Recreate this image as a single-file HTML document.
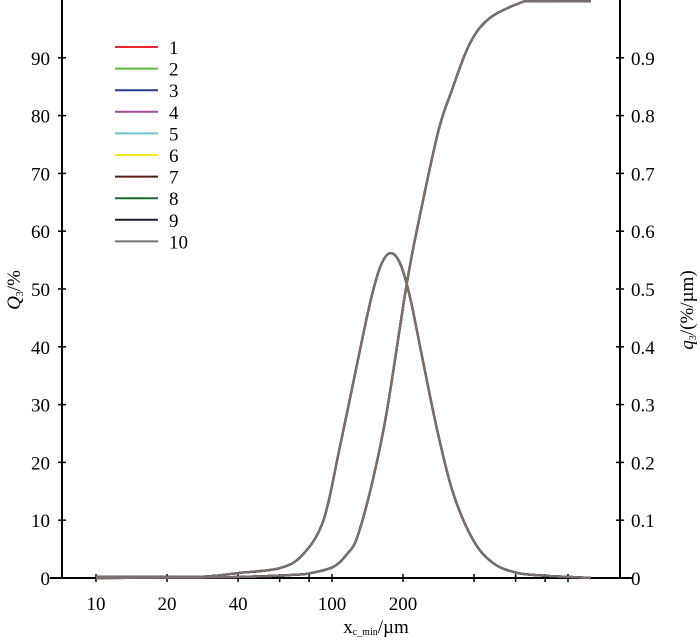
<!DOCTYPE html>
<html><head><meta charset="utf-8"><style>
body{margin:0;background:#fff;position:relative}
svg text{font-family:"Liberation Serif",serif;fill:#000}
</style></head><body>
<svg id="c" width="700" height="637" xmlns="http://www.w3.org/2000/svg"></svg>
<script>
const xTicks=[10,20,40,60,80,100,200,400,600,800,1000];
const xLabels=["10","20","40","","","100","200","","","",""];
const yLeftTicks=[0,10,20,30,40,50,60,70,80,90];
const yRightLabels=["0","0.1","0.2","0.3","0.4","0.5","0.6","0.7","0.8","0.9"];
const cumX=[10,30,50,66,80,101,115,128,149,171,206,229,281,322,385,467,626,711,900,1250];
const cumY=[0,0.1,0.3,0.5,0.8,1.9,4,7.1,17,29,50.2,60.2,77,84.4,92.6,96.9,99.5,99.8,99.8,99.8];
const denX=[10,20,30,40.8,60,75,92,108,128,145,160,176,194,214,241,279,326,396,481,608,800,1000,1250];
const denY=[0.002,0.002,0.003,0.009,0.017,0.04,0.10,0.227,0.372,0.476,0.538,0.562,0.545,0.486,0.382,0.256,0.147,0.066,0.026,0.009,0.004,0.002,0.0];
const seriesNames=["1","2","3","4","5","6","7","8","9","10"];
const seriesColors=["#e8262b","#5cb83a","#263a8f","#a04a9c","#6cc6cc","#f5ea14","#5a1a14","#1e6a30","#201a30","#7a7070"];

const svg=document.getElementById('c');
const NS="http://www.w3.org/2000/svg";
const L=62,R=620,B=578,T=0;
const X0=96,DEC=236;
function xs(v){return X0+(Math.log10(v)-1)*DEC;}
function yl(v){return B-v*5.78;}
function yr(v){return B-v*578;}
function mk(t,a){const e=document.createElementNS(NS,t);for(const k in a)e.setAttribute(k,a[k]);svg.appendChild(e);return e;}

let e;
e=mk('line',{x1:L,y1:T,x2:L,y2:B,stroke:'#000','stroke-width':2});


e=mk('line',{x1:R,y1:T,x2:R,y2:B,stroke:'#000','stroke-width':2});


e=mk('line',{x1:50,y1:B,x2:632,y2:B,stroke:'#000','stroke-width':2});



xTicks.forEach((v,i)=>{
  const x=xs(v);
  e=mk('line',{x1:x,y1:B-4,x2:x,y2:B+4,stroke:'#000','stroke-width':1.5});
  
  
  if(xLabels[i]){
    e=mk('text',{x:x,y:610,'font-size':19,'text-anchor':'middle'});e.textContent=xLabels[i];
    
    
  }
});
yLeftTicks.forEach((v,i)=>{
  const y=yl(v);
  e=mk('line',{x1:L-4,y1:y,x2:L+4,y2:y,stroke:'#000','stroke-width':1.5});
  
  
  e=mk('text',{x:50,y:y+7,'font-size':19,'text-anchor':'end'});e.textContent=String(v);
  
  
  e=mk('line',{x1:R-4,y1:y,x2:R+4,y2:y,stroke:'#000','stroke-width':1.5});
  
  
  e=mk('text',{x:631,y:y+7,'font-size':19,'text-anchor':'start'});e.textContent=yRightLabels[i];
  
  
});

function path(xa,ya,f){
  const p=xa.map((v,i)=>[xs(v),f(ya[i])]);
  let d='M'+p[0][0].toFixed(1)+','+p[0][1].toFixed(1);
  for(let i=0;i<p.length-1;i++){
    const p0=p[Math.max(0,i-1)],p1=p[i],p2=p[i+1],p3=p[Math.min(p.length-1,i+2)];
    const c1x=p1[0]+(p2[0]-p0[0])/6,c1y=p1[1]+(p2[1]-p0[1])/6;
    const c2x=p2[0]-(p3[0]-p1[0])/6,c2y=p2[1]-(p3[1]-p1[1])/6;
    d+=' C'+c1x.toFixed(1)+','+Math.min(B,c1y).toFixed(1)+' '+c2x.toFixed(1)+','+Math.min(B,c2y).toFixed(1)+' '+p2[0].toFixed(1)+','+p2[1].toFixed(1);
  }
  return d;
}
seriesNames.forEach((n,i)=>{
  e=mk('path',{d:path(denX,denY,yr),fill:'none',stroke:seriesColors[i],'stroke-width':2.2,'stroke-linejoin':'round'});
  
  
  e=mk('path',{d:path(cumX,cumY,yl),fill:'none',stroke:seriesColors[i],'stroke-width':2.2,'stroke-linejoin':'round'});
  
  
});

seriesNames.forEach((n,i)=>{
  const y=47+i*21.6;
  e=mk('line',{x1:115,y1:y,x2:158,y2:y,stroke:seriesColors[i],'stroke-width':2});
  
  
  e=mk('text',{x:169,y:y+7,'font-size':19});e.textContent=n;
  
  
});
</script>
<svg width="700" height="637" style="position:absolute;left:0;top:0">
<text x="376" y="633" font-size="19" text-anchor="middle" font-family="Liberation Serif">x<tspan font-size="10" dy="2">c_min</tspan><tspan dy="-2">/µm</tspan></text>
<text transform="translate(20,290) rotate(-90)" font-size="19" text-anchor="middle" font-family="Liberation Serif"><tspan font-style="italic">Q</tspan><tspan font-size="10" dy="3">3</tspan><tspan dy="-3">/%</tspan></text>
<text transform="translate(693,310) rotate(-90)" font-size="19" text-anchor="middle" font-family="Liberation Serif"><tspan font-style="italic">q</tspan><tspan font-size="10" dy="3">3</tspan><tspan dy="-3">/(%/µm)</tspan></text>
</svg>
</body></html>
